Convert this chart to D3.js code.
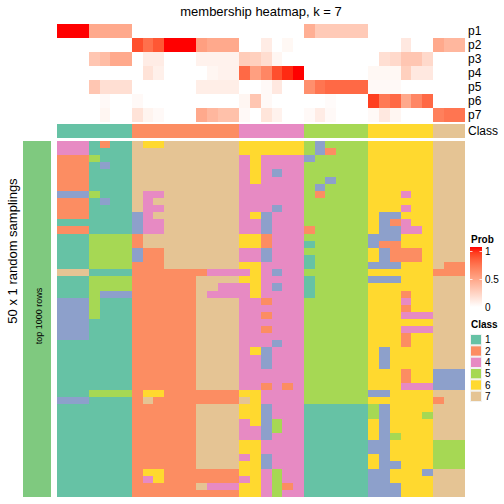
<!DOCTYPE html>
<html>
<head>
<meta charset="utf-8">
<script src="https://cdn.jsdelivr.net/npm/d3@7"></script>
<style>
  html, body { margin: 0; padding: 0; background: #fff; }
  svg { display: block; }
  text { font-family: "Liberation Sans", Arial, Helvetica, sans-serif; fill: #000; }
</style>
</head>
<body>
<svg id="chart" width="504" height="504"></svg>
<script>
// ---------- data ----------
const title = "membership heatmap, k = 7";
const probRows = ["p1", "p2", "p3", "p4", "p5", "p6", "p7"];

// class of each of the 38 samples (columns)
const classes = [1,1,1,1,1,1,1, 2,2,2,2,2,2,2,2,2,2, 4,4,4,4,4,4, 5,5,5,5,5,5, 6,6,6,6,6,6, 7,7,7];

// membership probabilities per sample
const p1 = [1,1,1, 0.45,0.45,0.45,0.45, 0,0,0,0,0,0,0,0,0,0,0,0,0,0,0,0, 0.42, 0.28,0.28,0.28,0.28,0.28, 0,0,0,0,0,0,0,0,0];
const p2 = [0,0,0,0,0,0,0, 0.85,0.72,0.82, 1,1,1, 0.5, 0.45,0.45,0.45, 0,0, 0.1, 0, 0.04, 0,0,0,0,0,0,0,0,0,0, 0.12, 0,0, 0.45, 0.38,0.38];
const p3 = [0,0,0, 0.3, 0.35, 0.45,0.45, 0, 0.1, 0.1, 0,0,0, 0.07,0.07,0.07,0.07, 0.27, 0.25, 0.18, 0.05, 0,0,0,0,0,0,0,0,0, 0.17, 0.2, 0.3,0.3, 0.2, 0,0,0];
const p4 = [0,0,0,0,0,0,0,0, 0.15, 0.08, 0,0,0,0, 0.05, 0.07,0.07, 0.75, 0.5, 0.62, 0.85, 0.95, 1, 0,0,0,0,0,0, 0.04,0.04,0.04, 0.25, 0.12, 0.12, 0,0,0];
const p5 = [0,0,0, 0.3, 0.17,0.17,0.17, 0,0,0,0,0,0, 0.09,0.09,0.09,0.09, 0,0, 0.03, 0.12, 0,0, 0.58, 0.7, 0.75, 0.75,0.75,0.75, 0.03,0.03,0.03, 0,0,0,0,0,0];
const p6 = [0,0,0,0, 0.03, 0,0, 0.03, 0,0,0,0,0,0,0,0,0, 0.05, 0.3, 0.03, 0,0,0,0,0, 0.02, 0,0,0, 0.9, 0.68, 0.75, 0.45, 0.62, 0.75, 0,0,0];
const p7 = [0,0,0,0, 0.05, 0,0, 0.15, 0.06, 0.03, 0,0,0, 0.45, 0.38, 0.33,0.33, 0.03, 0, 0.14, 0.07, 0,0, 0.03, 0.1, 0.03, 0,0,0, 0.03, 0.12, 0.05, 0,0,0, 0.65, 0.7,0.7];

// 50 random samplings x 38 samples: predicted class (| only separates class groups for reading)
const samplings = [
  "4441211|7667777777|66|6666|535555|666666|777",
  "4441111|7777777777|66|6666|532555|666666|777",
  "2225111|7777777777|46|4444|355555|666666|777",
  "2221311|7777777777|46|4444|555555|666666|777",
  "2221111|7777777777|46|4344|555555|666666|777",
  "2221111|7777777777|46|4444|553555|666666|777",
  "2221111|7777777777|44|4444|535555|666666|777",
  "3335111|7447777777|44|4444|525555|666466|777",
  "2221311|7477777777|44|4444|555555|666666|777",
  "2221111|7447777777|44|4344|555555|666466|777",
  "2221111|3477777777|46|3444|555555|633666|777",
  "1111111|3447777777|44|3444|555555|632466|777",
  "2221111|3447777777|44|3444|255555|633446|777",
  "1115555|2777777777|66|2444|555555|333666|777",
  "1115555|2777777777|66|2444|155555|322666|777",
  "1115555|3227777777|44|3444|555555|632226|777",
  "1115555|3227777777|44|3444|155555|632226|777",
  "1115555|2227777777|66|4444|155555|333666|722",
  "7771111|2222222444|46|4344|555555|666666|222",
  "1115555|2222227777|66|4444|155555|333666|777",
  "1115555|2222227744|46|4344|155555|666666|777",
  "1115333|2222227444|46|4444|155555|666266|777",
  "3335111|2222227777|44|2444|555555|666466|777",
  "3335111|2222227777|44|4444|555555|666266|777",
  "3335111|2222227777|44|2444|555555|666444|777",
  "3331111|2222227777|44|4444|555555|666666|777",
  "3331111|2222227777|44|2444|555555|666444|777",
  "3331111|2222227777|44|4444|555555|666266|777",
  "1111111|2222227777|44|4344|555555|666266|777",
  "1111111|2222227777|46|3444|555555|636666|777",
  "1111111|2222227777|44|3444|555555|636666|777",
  "1111111|2222227777|44|3444|555555|636666|777",
  "1111111|2222227777|44|4444|555555|666266|333",
  "1111111|2222227777|44|4444|555555|666266|333",
  "1111111|2222227777|44|2424|555555|666444|333",
  "1115555|2662222222|66|4444|555555|336666|777",
  "3331111|2722222222|76|4444|555555|666666|277",
  "1111111|2222227777|66|3444|111111|536666|777",
  "1111111|2222227777|66|3444|111111|536665|777",
  "1111111|2222227777|46|3544|111111|636666|777",
  "1111111|2222227777|44|3544|111111|636666|777",
  "1111111|2222227777|44|3444|111111|635666|777",
  "1111111|2222227777|66|4444|111111|336666|555",
  "1111111|2222227777|66|4444|111111|336666|555",
  "1111111|2222227777|46|3444|111111|636666|555",
  "1111111|2222227777|66|3444|111111|633666|555",
  "1111111|2662222222|66|4544|111111|336663|777",
  "1111111|2462222222|46|4544|111111|336666|777",
  "1111111|2222227444|66|4524|111111|333666|777",
  "1111111|2222222222|66|4544|111111|333666|777"
];

const classKeys = [1, 2, 3, 4, 5, 6, 7];
const classColors = ["#66C2A5", "#FC8D62", "#8DA0CB", "#E78AC3", "#A6D854", "#FFD92F", "#E5C494"];
const legendClasses = [1, 2, 4, 5, 6, 7];
const probTicks = [0, 0.5, 1];
const leftTitle = "50 x 1 random samplings";
const leftBarLabel = "top 1000 rows";

// ---------- build ----------
const probs = [p1, p2, p3, p4, p5, p6, p7];
const sampleIdx = classes.map((d, i) => i);
const grid = samplings.map(s => s.replace(/\|/g, "").split("").map(Number));

const svg = d3.select("#chart");

const x = d3.scaleBand().domain(sampleIdx).range([56.7, 465]);
const yTop = d3.scaleBand().domain(probRows).range([24, 122]);
const yMain = d3.scaleBand().domain(d3.range(grid.length)).range([141, 497]);
const classColor = d3.scaleOrdinal().domain(classKeys).range(classColors);
const probColor = d3.scaleLinear().domain([0, 1]).range(["#FFFFFF", "#FF0000"]).interpolate(d3.interpolateLab);

// title
svg.append("text")
  .attr("x", 261).attr("y", 16)
  .attr("text-anchor", "middle")
  .style("font-size", "13px")
  .text(title);

// probability annotation
const gTop = svg.append("g").attr("shape-rendering", "crispEdges");
probRows.forEach((r, ri) => {
  gTop.selectAll(null).data(probs[ri]).enter().append("rect")
    .attr("x", (d, i) => x(i))
    .attr("y", yTop(r))
    .attr("width", x.bandwidth())
    .attr("height", yTop.bandwidth())
    .attr("fill", d => probColor(d));
});
// class annotation row
gTop.selectAll(null).data(classes).enter().append("rect")
  .attr("x", (d, i) => x(i))
  .attr("y", 124)
  .attr("width", x.bandwidth())
  .attr("height", 14)
  .attr("fill", d => classColor(d));

// annotation labels
svg.selectAll(null).data(probRows).enter().append("text")
  .attr("x", 468)
  .attr("y", d => yTop(d) + yTop.bandwidth() / 2)
  .attr("dy", "0.35em")
  .style("font-size", "12px")
  .text(d => d);
svg.append("text")
  .attr("x", 468).attr("y", 131).attr("dy", "0.35em")
  .style("font-size", "12px")
  .text("Class");

// main heatmap
const gMain = svg.append("g").attr("shape-rendering", "crispEdges");
grid.forEach((row, ri) => {
  gMain.selectAll(null).data(row).enter().append("rect")
    .attr("x", (d, i) => x(i))
    .attr("y", yMain(ri))
    .attr("width", x.bandwidth())
    .attr("height", yMain.bandwidth())
    .attr("fill", d => classColor(d));
});

// left bar
svg.append("rect")
  .attr("x", 23).attr("y", 141).attr("width", 28).attr("height", 356)
  .attr("fill", "#7FC97F");
svg.append("text")
  .attr("transform", "translate(41.5,316) rotate(-90)")
  .attr("text-anchor", "middle")
  .style("font-size", "9px")
  .text(leftBarLabel);
svg.append("text")
  .attr("transform", "translate(17,251) rotate(-90)")
  .attr("text-anchor", "middle")
  .style("font-size", "13px")
  .text(leftTitle);

// Prob legend
const defs = svg.append("defs");
const grad = defs.append("linearGradient").attr("id", "probGrad")
  .attr("x1", 0).attr("y1", 1).attr("x2", 0).attr("y2", 0);
d3.range(0, 1.0001, 0.1).forEach(t => {
  grad.append("stop").attr("offset", t).attr("stop-color", probColor(t));
});
svg.append("text").attr("x", 471).attr("y", 243)
  .style("font-size", "10px").style("font-weight", "bold").text("Prob");
const legY = d3.scaleLinear().domain([0, 1]).range([307.5, 251.5]);
svg.append("rect").attr("x", 470).attr("y", 247).attr("width", 12).attr("height", 60)
  .attr("fill", "url(#probGrad)");
probTicks.forEach(t => {
  if (t > 0) {
    svg.append("line").attr("x1", 470).attr("x2", 472.5).attr("y1", legY(t)).attr("y2", legY(t))
      .attr("stroke", "#fff").attr("stroke-width", 0.8);
    svg.append("line").attr("x1", 479.5).attr("x2", 482).attr("y1", legY(t)).attr("y2", legY(t))
      .attr("stroke", "#fff").attr("stroke-width", 0.8);
  }
  svg.append("text").attr("x", 485).attr("y", legY(t)).attr("dy", "0.35em")
    .style("font-size", "10px").text(t === 0 ? "0" : (t === 1 ? "1" : "0.5"));
});

// Class legend
svg.append("text").attr("x", 471).attr("y", 328)
  .style("font-size", "10px").style("font-weight", "bold").text("Class");
const legC = d3.scaleBand().domain(legendClasses).range([334, 402]);
svg.selectAll(null).data(legendClasses).enter().append("rect")
  .attr("x", 470.5).attr("y", d => legC(d) + 0.5)
  .attr("width", 11).attr("height", legC.bandwidth() - 1)
  .attr("fill", d => classColor(d))
  .attr("stroke", "#f2f2f2").attr("stroke-width", 1);
svg.selectAll(null).data(legendClasses).enter().append("text")
  .attr("x", 485).attr("y", d => legC(d) + legC.bandwidth() / 2).attr("dy", "0.35em")
  .style("font-size", "10px").text(d => d);
</script>
</body>
</html>
